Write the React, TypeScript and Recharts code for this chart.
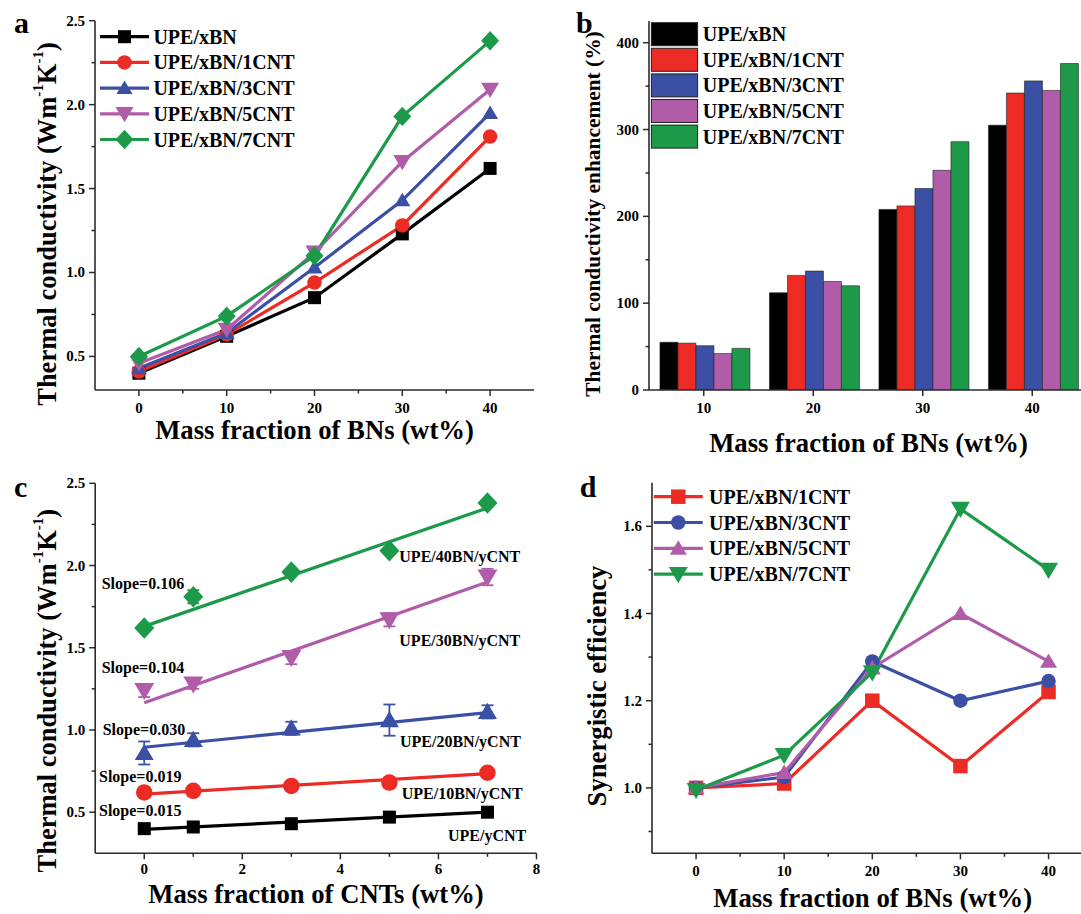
import React from 'react';
import { LineChart, Line, BarChart, Bar, ComposedChart, Scatter, ErrorBar, XAxis, YAxis } from 'recharts';

const FONT = '"Liberation Serif", "Times New Roman", serif';
const AXIS_COLOR = '#2b2b2b';
const BLACK = '#000000';
const RED = '#EC2B25';
const BLUE = '#3B4FA4';
const VIOLET = '#B15CA9';
const GREEN = '#1C9A4A';

// (a) thermal conductivity vs BN loading
const BN_LOADING = [0, 10, 20, 30, 40];
const A_XBN = [0.40, 0.62, 0.85, 1.23, 1.62];
const A_1CNT = [0.41, 0.63, 0.94, 1.28, 1.81];
const A_3CNT = [0.43, 0.64, 1.03, 1.43, 1.95];
const A_5CNT = [0.46, 0.66, 1.12, 1.66, 2.09];
const A_7CNT = [0.50, 0.74, 1.10, 1.93, 2.38];
const A_X_LABELS = [0, 10, 20, 30, 40];
const A_X_TICKS = [0, 5, 10, 15, 20, 25, 30, 35, 40];
const A_Y_LABELS = [0.5, 1.0, 1.5, 2.0, 2.5];
const A_Y_TICKS = [0.5, 0.75, 1.0, 1.25, 1.5, 1.75, 2.0, 2.25, 2.5];

// (b) enhancement (%)
const B_CATEGORIES = ['10', '20', '30', '40'];
const B_XBN = [55, 112, 208, 305];
const B_1CNT = [54, 132, 212, 342];
const B_3CNT = [51, 137, 232, 356];
const B_5CNT = [42, 125, 253, 345];
const B_7CNT = [48, 120, 286, 376];
const B_Y_LABELS = [0, 100, 200, 300, 400];
const B_Y_TICKS = [0, 50, 100, 150, 200, 250, 300, 350, 400];

// (c) thermal conductivity vs CNT loading
const CNT_LOADING = [0, 1, 3, 5, 7];
const C_0BN = [0.40, 0.41, 0.43, 0.47, 0.50];
const C_10BN = [0.62, 0.63, 0.66, 0.68, 0.74];
const C_20BN = [0.86, 0.94, 1.01, 1.06, 1.11];
const C_30BN = [1.24, 1.28, 1.44, 1.67, 1.93];
const C_40BN = [1.62, 1.81, 1.96, 2.09, 2.38];
const C_0BN_ERR = [0.02, 0.02, 0.02, 0.02, 0.02];
const C_10BN_ERR = [0.02, 0.02, 0.02, 0.03, 0.02];
const C_20BN_ERR = [0.07, 0.04, 0.04, 0.095, 0.04];
const C_30BN_ERR = [0.04, 0.03, 0.04, 0.04, 0.05];
const C_40BN_ERR = [0.02, 0.04, 0.02, 0.02, 0.02];
// linear fits, read at x = 0 and x = 7
const FIT_X = [0, 7];
const FIT_0BN = [0.395, 0.50];
const FIT_10BN = [0.61, 0.735];
const FIT_20BN = [0.895, 1.105];
const FIT_30BN = [1.165, 1.90];
const FIT_40BN = [1.63, 2.35];
const C_X_LABELS = [0, 2, 4, 6, 8];
const C_X_TICKS = [0, 1, 2, 3, 4, 5, 6, 7, 8];
const C_Y_LABELS = [0.5, 1.0, 1.5, 2.0, 2.5];
const C_Y_TICKS = [0.5, 0.75, 1.0, 1.25, 1.5, 1.75, 2.0, 2.25, 2.5];

// (d) synergistic efficiency
const D_1CNT = [1.0, 1.01, 1.20, 1.05, 1.22];
const D_3CNT = [1.0, 1.025, 1.29, 1.20, 1.245];
const D_5CNT = [1.0, 1.035, 1.275, 1.40, 1.29];
const D_7CNT = [0.995, 1.075, 1.265, 1.64, 1.50];
const D_Y_LABELS = [1.0, 1.2, 1.4, 1.6];
const D_Y_TICKS = [0.9, 1.0, 1.1, 1.2, 1.3, 1.4, 1.5, 1.6];

type Shape = 'square' | 'circle' | 'triUp' | 'triDown' | 'diamond';

const A_SERIES = [
  { name: 'UPE/xBN', values: A_XBN, color: BLACK, shape: 'square' as Shape, size: 13 },
  { name: 'UPE/xBN/1CNT', values: A_1CNT, color: RED, shape: 'circle' as Shape, size: 14.5 },
  { name: 'UPE/xBN/3CNT', values: A_3CNT, color: BLUE, shape: 'triUp' as Shape, size: 16 },
  { name: 'UPE/xBN/5CNT', values: A_5CNT, color: VIOLET, shape: 'triDown' as Shape, size: 18 },
  { name: 'UPE/xBN/7CNT', values: A_7CNT, color: GREEN, shape: 'diamond' as Shape, size: 18 },
];

const B_SERIES = [
  { name: 'UPE/xBN', values: B_XBN, color: BLACK },
  { name: 'UPE/xBN/1CNT', values: B_1CNT, color: RED },
  { name: 'UPE/xBN/3CNT', values: B_3CNT, color: BLUE },
  { name: 'UPE/xBN/5CNT', values: B_5CNT, color: VIOLET },
  { name: 'UPE/xBN/7CNT', values: B_7CNT, color: GREEN },
];

const C_SERIES = [
  { values: C_0BN, err: C_0BN_ERR, fit: FIT_0BN, color: BLACK, shape: 'square' as Shape, size: 13 },
  { values: C_10BN, err: C_10BN_ERR, fit: FIT_10BN, color: RED, shape: 'circle' as Shape, size: 16.5 },
  { values: C_20BN, err: C_20BN_ERR, fit: FIT_20BN, color: BLUE, shape: 'triUp' as Shape, size: 19 },
  { values: C_30BN, err: C_30BN_ERR, fit: FIT_30BN, color: VIOLET, shape: 'triDown' as Shape, size: 20 },
  { values: C_40BN, err: C_40BN_ERR, fit: FIT_40BN, color: GREEN, shape: 'diamond' as Shape, size: 20 },
];

const D_SERIES = [
  { name: 'UPE/xBN/1CNT', values: D_1CNT, color: RED, shape: 'square' as Shape, size: 14.5 },
  { name: 'UPE/xBN/3CNT', values: D_3CNT, color: BLUE, shape: 'circle' as Shape, size: 14.5 },
  { name: 'UPE/xBN/5CNT', values: D_5CNT, color: VIOLET, shape: 'triUp' as Shape, size: 17 },
  { name: 'UPE/xBN/7CNT', values: D_7CNT, color: GREEN, shape: 'triDown' as Shape, size: 19 },
];

const C_SLOPES = [
  { text: 'Slope=0.106', x: 101.7, y: 583.3 },
  { text: 'Slope=0.104', x: 101.7, y: 667.3 },
  { text: 'Slope=0.030', x: 102.7, y: 729.3 },
  { text: 'Slope=0.019', x: 99, y: 776.7 },
  { text: 'Slope=0.015', x: 99, y: 810.7 },
];
const C_NAMES = [
  { text: 'UPE/40BN/yCNT', x: 399.3, y: 556 },
  { text: 'UPE/30BN/yCNT', x: 399.3, y: 640 },
  { text: 'UPE/20BN/yCNT', x: 400, y: 741 },
  { text: 'UPE/10BN/yCNT', x: 401.7, y: 793.3 },
  { text: 'UPE/yCNT', x: 448, y: 835.7 },
];

const toRows = (xs: (number | string)[], series: { values: number[] }[]) =>
  xs.map((x, i) => {
    const row: any = { x };
    series.forEach((s, j) => { row['s' + j] = s.values[i]; });
    return row;
  });

const Marker = ({ cx, cy, shape, size, fill }: { cx: number; cy: number; shape: Shape; size: number; fill: string }) => {
  const h = size / 2;
  if (cx == null || cy == null) return null;
  switch (shape) {
    case 'square':
      return <rect x={cx - h} y={cy - h} width={size} height={size} fill={fill} />;
    case 'circle':
      return <circle cx={cx} cy={cy} r={h} fill={fill} />;
    case 'triUp':
      return <polygon points={`${cx},${cy - h * 0.95} ${cx - h},${cy + h * 0.75} ${cx + h},${cy + h * 0.75}`} fill={fill} />;
    case 'triDown':
      return <polygon points={`${cx},${cy + h * 0.95} ${cx - h},${cy - h * 0.75} ${cx + h},${cy - h * 0.75}`} fill={fill} />;
    case 'diamond':
      return <polygon points={`${cx},${cy - h * 1.08} ${cx + h},${cy} ${cx},${cy + h * 1.08} ${cx - h},${cy}`} fill={fill} />;
  }
  return null;
};

const tickText = { fontFamily: FONT, fontWeight: 'bold' as const, fontSize: 15, fill: '#000' };

const bottomTick = (labels: (number | string)[], gap = 18, fmt = (v: any) => String(v)) => (p: any) => {
  const v = p.payload.value;
  const major = labels.includes(v);
  return (
    <g>
      <line x1={p.x} x2={p.x} y1={p.y} y2={p.y + (major ? 6 : 3.5)} stroke={AXIS_COLOR} strokeWidth={1.5} />
      {major && (
        <text x={p.x} y={p.y + gap} textAnchor="middle" dominantBaseline="central" {...tickText}>{fmt(v)}</text>
      )}
    </g>
  );
};

const leftTick = (labels: number[], fmt = (v: any) => String(v)) => (p: any) => {
  const v = p.payload.value;
  const major = labels.includes(v);
  return (
    <g>
      <line x1={p.x} x2={p.x - (major ? 6 : 3.5)} y1={p.y} y2={p.y} stroke={AXIS_COLOR} strokeWidth={1.5} />
      {major && (
        <text x={p.x - 10} y={p.y} textAnchor="end" dominantBaseline="central" {...tickText}>{fmt(v)}</text>
      )}
    </g>
  );
};

const axisLine = { stroke: AXIS_COLOR, strokeWidth: 1.6 };
const oneDecimal = (v: number) => v.toFixed(1);

const PanelA = () => {
  const rows = toRows(BN_LOADING, A_SERIES);
  return (
    <LineChart width={540} height={450} data={rows} margin={{ top: 20.7, right: 6, bottom: 30, left: 35 }}>
      <XAxis dataKey="x" type="number" domain={[-5, 45]} ticks={A_X_TICKS} interval={0} tickSize={0} tickMargin={0}
        tickLine={false} axisLine={axisLine} tick={bottomTick(A_X_LABELS)} height={30} allowDataOverflow />
      <XAxis xAxisId="top" orientation="top" type="number" domain={[-5, 45]} tick={false} tickLine={false} axisLine={axisLine} height={0} />
      <YAxis type="number" domain={[0.3, 2.5]} ticks={A_Y_TICKS} interval={0} tickSize={0} tickMargin={0}
        tickLine={false} axisLine={axisLine} tick={leftTick(A_Y_LABELS, oneDecimal)} width={60} allowDataOverflow />
      <YAxis yAxisId="right" orientation="right" type="number" domain={[0, 1]} tick={false} tickLine={false} axisLine={axisLine} width={0} />
      {A_SERIES.map((s, j) => (
        <Line key={s.name} dataKey={'s' + j} stroke={s.color} strokeWidth={3.2} isAnimationActive={false}
          dot={(p: any) => <Marker key={p.index} cx={p.cx} cy={p.cy} shape={s.shape} size={s.size} fill={s.color} />} />
      ))}
    </LineChart>
  );
};

const PanelB = () => {
  const rows = toRows(B_CATEGORIES, B_SERIES);
  return (
    <BarChart width={560} height={450} data={rows} margin={{ top: 21, right: 13, bottom: 30, left: 49 }} barCategoryGap="10%" barGap={0}>
      <XAxis dataKey="x" type="category" interval={0} tickSize={0} tickMargin={0} tickLine={false} axisLine={axisLine}
        tick={bottomTick(B_CATEGORIES)} height={30} />
      <XAxis xAxisId="top" dataKey="x" orientation="top" type="category" tick={false} tickLine={false} axisLine={axisLine} height={0} />
      <YAxis type="number" domain={[0, 425]} ticks={B_Y_TICKS} interval={0} tickSize={0} tickMargin={0}
        tickLine={false} axisLine={axisLine} tick={leftTick(B_Y_LABELS)} width={60} allowDataOverflow />
      {B_SERIES.map((s, j) => (
        <Bar key={s.name} dataKey={'s' + j} fill={s.color} stroke="#222" strokeWidth={0.6} isAnimationActive={false} />
      ))}
    </BarChart>
  );
};

const PanelC = () => (
  <ComposedChart width={540} height={464} margin={{ top: 33.3, right: 3.5, bottom: 30.7, left: 35.2 }}>
    <XAxis dataKey="x" type="number" domain={[-1, 8]} ticks={C_X_TICKS} interval={0} tickSize={0} tickMargin={0}
      tickLine={false} axisLine={axisLine} tick={bottomTick(C_X_LABELS, 16)} height={30} allowDataOverflow />
    <XAxis xAxisId="top" orientation="top" type="number" domain={[-1, 8]} tick={false} tickLine={false} axisLine={axisLine} height={0} />
    <YAxis dataKey="y" type="number" domain={[0.25, 2.5]} ticks={C_Y_TICKS} interval={0} tickSize={0} tickMargin={0}
      tickLine={false} axisLine={axisLine} tick={leftTick(C_Y_LABELS, oneDecimal)} width={60} allowDataOverflow />
    <YAxis yAxisId="right" orientation="right" type="number" domain={[0, 1]} tick={false} tickLine={false} axisLine={axisLine} width={0} />
    {C_SERIES.map((s, j) => (
      <Line key={'fit' + j} data={FIT_X.map((x, i) => ({ x, y: s.fit[i] }))} dataKey="y" stroke={s.color}
        strokeWidth={3.2} dot={false} activeDot={false} isAnimationActive={false} />
    ))}
    {C_SERIES.map((s, j) => (
      <Scatter key={'pts' + j} data={CNT_LOADING.map((x, i) => ({ x, y: s.values[i], err: s.err[i] }))}
        isAnimationActive={false} fill={s.color}
        shape={(p: any) => <Marker cx={p.cx} cy={p.cy} shape={s.shape} size={s.size} fill={s.color} />}>
        <ErrorBar dataKey="err" direction="y" width={6} stroke={s.color} strokeWidth={1.8} />
      </Scatter>
    ))}
  </ComposedChart>
);

const PanelD = () => {
  const rows = toRows(BN_LOADING, D_SERIES);
  return (
    <LineChart width={560} height={464} data={rows} margin={{ top: 32.7, right: 7.4, bottom: 30.7, left: 52 }}>
      <XAxis dataKey="x" type="number" domain={[-5, 45]} ticks={A_X_TICKS} interval={0} tickSize={0} tickMargin={0}
        tickLine={false} axisLine={axisLine} tick={bottomTick(A_X_LABELS)} height={30} allowDataOverflow />
      <XAxis xAxisId="top" orientation="top" type="number" domain={[-5, 45]} tick={false} tickLine={false} axisLine={axisLine} height={0} />
      <YAxis type="number" domain={[0.85, 1.7]} ticks={D_Y_TICKS} interval={0} tickSize={0} tickMargin={0}
        tickLine={false} axisLine={axisLine} tick={leftTick(D_Y_LABELS, oneDecimal)} width={60} allowDataOverflow />
      {D_SERIES.map((s, j) => (
        <Line key={s.name} dataKey={'s' + j} stroke={s.color} strokeWidth={3.2} isAnimationActive={false}
          dot={(p: any) => <Marker key={p.index} cx={p.cx} cy={p.cy} shape={s.shape} size={s.size} fill={s.color} />} />
      ))}
    </LineChart>
  );
};

const txt = { fontFamily: FONT, fontWeight: 'bold' as const, fill: '#000' };

const ConductivityTitle = ({ x, y }: { x: number; y: number }) => (
  <text transform={`translate(${x},${y}) rotate(-90)`} textAnchor="middle" dominantBaseline="central" fontSize={26.5} {...txt}>
    Thermal conductivity (Wm<tspan dy={-9} fontSize={15}>-1</tspan><tspan dy={9}>K</tspan>
    <tspan dy={-9} fontSize={15}>-1</tspan><tspan dy={9}>)</tspan>
  </text>
);

const Overlay = () => (
  <svg width={1081} height={914} style={{ position: 'absolute', left: 0, top: 0, pointerEvents: 'none' }}>
    {/* panel letters */}
    <text x={14} y={33} fontSize={30} {...txt}>a</text>
    <text x={576} y={33} fontSize={30} {...txt}>b</text>
    <text x={14} y={496.7} fontSize={30} {...txt}>c</text>
    <text x={579.7} y={496.7} fontSize={30} {...txt}>d</text>

    {/* axis titles */}
    <text x={314.5} y={430} textAnchor="middle" dominantBaseline="central" fontSize={26.7} {...txt}>Mass fraction of BNs (wt%)</text>
    <text x={868.5} y={443} textAnchor="middle" dominantBaseline="central" fontSize={26.7} {...txt}>Mass fraction of BNs (wt%)</text>
    <text x={316} y={894} textAnchor="middle" dominantBaseline="central" fontSize={26.7} {...txt}>Mass fraction of CNTs (wt%)</text>
    <text x={872.7} y={897.5} textAnchor="middle" dominantBaseline="central" fontSize={26.7} {...txt}>Mass fraction of BNs (wt%)</text>
    <ConductivityTitle x={46.5} y={224} />
    <ConductivityTitle x={46.5} y={690.7} />
    <text transform="translate(593.4,214) rotate(-90)" textAnchor="middle" dominantBaseline="central" fontSize={21.4} {...txt}>
      Thermal conductivity enhancement (%)
    </text>
    <text transform="translate(597,686) rotate(-90)" textAnchor="middle" dominantBaseline="central" fontSize={26.7} {...txt}>
      Synergistic efficiency
    </text>

    {/* legend a */}
    {A_SERIES.map((s, i) => {
      const y = 36.7 + i * 25.7;
      return (
        <g key={s.name}>
          <line x1={100} x2={149} y1={y} y2={y} stroke={s.color} strokeWidth={3.2} />
          <Marker cx={124.5} cy={y} shape={s.shape} size={s.size} fill={s.color} />
          <text x={153.4} y={y} dominantBaseline="central" fontSize={20} {...txt}>{s.name}</text>
        </g>
      );
    })}

    {/* legend b */}
    {B_SERIES.map((s, i) => {
      const top = 22.7 + i * 25.6;
      return (
        <g key={s.name}>
          <rect x={651.4} y={top} width={46.2} height={23} fill={s.color} stroke="#222" strokeWidth={1} />
          <text x={702.8} y={top + 11.5} dominantBaseline="central" fontSize={20} {...txt}>{s.name}</text>
        </g>
      );
    })}

    {/* legend d */}
    {D_SERIES.map((s, i) => {
      const y = 496.7 + i * 25.8;
      return (
        <g key={s.name}>
          <line x1={653.8} x2={702.8} y1={y} y2={y} stroke={s.color} strokeWidth={3.2} />
          <Marker cx={678.3} cy={y} shape={s.shape} size={s.size} fill={s.color} />
          <text x={709} y={y} dominantBaseline="central" fontSize={20} {...txt}>{s.name}</text>
        </g>
      );
    })}

    {/* panel c annotations */}
    {C_SLOPES.concat(C_NAMES).map((a) => (
      <text key={a.text} x={a.x} y={a.y} dominantBaseline="central" fontSize={16} {...txt}>{a.text}</text>
    ))}
  </svg>
);

const App = () => (
  <div style={{ position: 'absolute', left: 0, top: 0, width: 1081, height: 914, overflow: 'hidden', background: '#fff', fontFamily: FONT }}>
    <div style={{ position: 'absolute', left: 0, top: 0 }}><PanelA /></div>
    <div style={{ position: 'absolute', left: 540, top: 0 }}><PanelB /></div>
    <div style={{ position: 'absolute', left: 0, top: 450 }}><PanelC /></div>
    <div style={{ position: 'absolute', left: 540, top: 450 }}><PanelD /></div>
    <Overlay />
  </div>
);

export default App;
